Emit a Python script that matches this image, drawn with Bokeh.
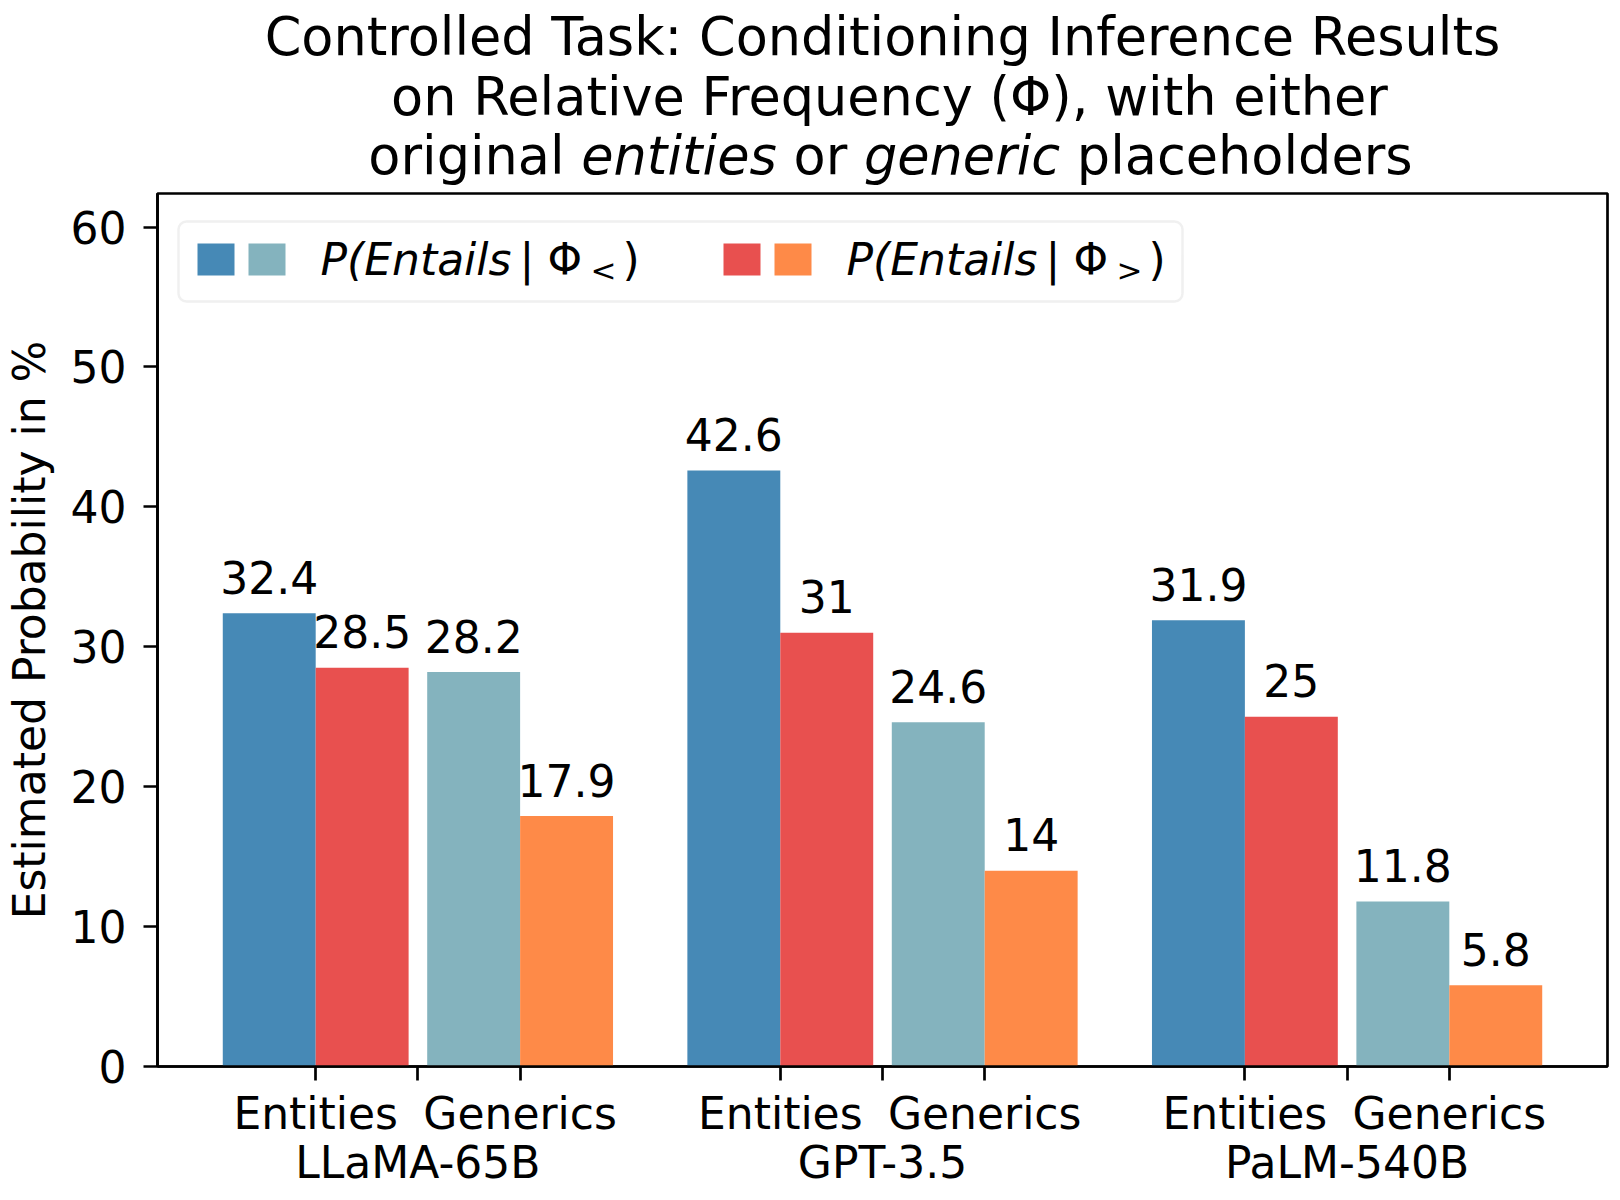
import numpy as np
from bokeh.plotting import figure
from bokeh.layouts import column
from bokeh.models import Range1d, LinearAxis, FixedTicker, Label, BoxAnnotation
from bokeh.embed import file_html
from bokeh.resources import INLINE
from bokeh.core.properties import value

# ---------------- data ----------------
models = ["LLaMA-65B", "GPT-3.5", "PaLM-540B"]
subgroups = ["Entities", "Generics"]
entities_lt = [32.4, 42.6, 31.9]   # P(Entails | Phi_<), original entities
entities_gt = [28.5, 31.0, 25.0]   # P(Entails | Phi_>), original entities
generics_lt = [28.2, 24.6, 11.8]   # P(Entails | Phi_<), generic placeholders
generics_gt = [17.9, 14.0, 5.8]    # P(Entails | Phi_>), generic placeholders
y_ticks = [0, 10, 20, 30, 40, 50, 60]
title_lines = ["Controlled Task: Conditioning Inference Results",
               "on Relative Frequency (\u03a6), with either"]
title_words = [("original", "normal"), ("entities", "italic"), ("or", "normal"),
               ("generic", "italic"), ("placeholders", "normal")]

BLUE, TEAL, RED, ORANGE = "#4689B6", "#84B3BE", "#E8504F", "#FE8A48"
FONT = "DejaVu Sans"
BASE_FIX = 0.34   # rendered alphabetic baseline sits this many em lower

# ---------------- geometry (page pixels) ----------------
X0, X1 = -0.5605, 2.5605
Y0, Y1 = 0.0, 62.4
FW, FH = 1450, 873
PL, PT = 157, 193           # frame left/top on the page
HH = 188                    # header (title) height
TOTAL_W = 1615
BR = TOTAL_W - PL - FW

def xd(px):
    return X0 + (px - PL) / FW * (X1 - X0)

def yd(py):
    return Y1 - (py - PT) / FH * (Y1 - Y0)

# ---------------- header with title (frame aligned with the plot frame) ----------------
hdr = figure(x_range=Range1d(PL, PL + FW), y_range=Range1d(0, HH),
             x_axis_type=None, y_axis_type=None,
             output_backend="svg", toolbar_location=None,
             min_border_left=PL, min_border_right=BR,
             min_border_top=0, min_border_bottom=0, outline_line_color=None)
hdr.frame_width = FW
hdr.frame_height = HH
hdr.xgrid.visible = False
hdr.ygrid.visible = False
TS = 52.5
XC = PL + FW / 2
for line, base, dx in zip(title_lines, (54, 113.5), (0, 7)):
    hdr.text(x=[XC + dx], y=[HH - base], text=[line], text_align="center",
             text_baseline="alphabetic", y_offset=-BASE_FIX * TS,
             text_font=value(FONT), text_font_size=f"{TS}px", text_color="black")

ADV = {"o": 1253, "r": 842, "i": 569, "g": 1300, "n": 1298, "a": 1255, "l": 569,
       "e": 1260, "t": 803, "s": 1067, "c": 1126, "p": 1300, "h": 1298, "d": 1300,
       " ": 651}
full = " ".join(w for w, _ in title_words)
cursor = XC + 8 - sum(ADV[ch] for ch in full) / 2048 * TS / 2
for w, style in title_words:
    hdr.text(x=[cursor], y=[HH - 173], text=[w], text_align="left",
             text_baseline="alphabetic", y_offset=-BASE_FIX * TS,
             text_font=value(FONT), text_font_style=style,
             text_font_size=f"{TS}px", text_color="black")
    cursor += (sum(ADV[ch] for ch in w) + ADV[" "]) / 2048 * TS

# ---------------- main plot ----------------
p = figure(x_range=Range1d(X0, X1), y_range=Range1d(Y0, Y1),
           x_axis_type=None, y_axis_type=None,
           output_backend="svg", toolbar_location=None,
           min_border_left=PL, min_border_top=PT - HH,
           min_border_right=BR, min_border_bottom=125)
p.frame_width = FW
p.frame_height = FH
p.xgrid.visible = False
p.ygrid.visible = False
p.outline_line_color = "black"
p.outline_line_width = 2.7
p.outline_line_alpha = 1.0
p.background_fill_color = "white"
p.border_fill_color = "white"

xs = np.arange(len(models), dtype=float)
BW = 0.2
series = [(entities_lt, -0.32, BLUE), (entities_gt, -0.12, RED),
          (generics_lt, 0.12, TEAL), (generics_gt, 0.32, ORANGE)]
for vals, off, col in series:
    p.vbar(x=xs + off, top=vals, bottom=0, width=BW, fill_color=col,
           line_color=None)
    p.text(x=xs + off, y=vals, text=[f"{v:g}" for v in vals],
           text_align="center", text_baseline="alphabetic",
           y_offset=-21 - BASE_FIX * 44,
           text_font=value(FONT), text_font_size="44px", text_color="black")

def style_axis(ax):
    ax.axis_line_color = "black"
    ax.axis_line_width = 2.7
    ax.major_tick_line_color = "black"
    ax.major_tick_line_width = 2.7
    ax.minor_tick_line_color = "black"
    ax.minor_tick_line_width = 2.7
    ax.major_tick_in = 0
    ax.minor_tick_in = 0
    ax.major_label_text_font = FONT
    ax.major_label_text_font_size = "44px"
    ax.major_label_text_color = "black"

yax = LinearAxis(ticker=FixedTicker(ticks=y_ticks, minor_ticks=[]))
style_axis(yax)
yax.major_tick_out = 14
yax.minor_tick_out = 0
yax.major_label_standoff = 17
yax.axis_label = "Estimated Probability in %"
yax.axis_label_text_font = FONT
yax.axis_label_text_font_size = "44px"
yax.axis_label_text_font_style = "normal"
yax.axis_label_text_color = "black"
yax.axis_label_standoff = 13
p.add_layout(yax, "left")

sub_ticks, sub_over = [], {}
for c in xs:
    for k, name in zip((-0.22, 0.22), subgroups):
        t = float(c + k)
        sub_ticks.append(t)
        sub_over[t] = name
xax = LinearAxis(ticker=FixedTicker(ticks=sub_ticks, minor_ticks=[float(c) for c in xs]))
style_axis(xax)
xax.major_tick_out = 14
xax.minor_tick_out = 14
xax.major_label_standoff = 7
xax.major_label_overrides = sub_over
p.add_layout(xax, "below")

mod_over = {float(c): m for c, m in zip(xs, models)}
max_ax = LinearAxis(ticker=FixedTicker(ticks=[float(c) for c in xs], minor_ticks=[]))
style_axis(max_ax)
max_ax.axis_line_color = None
max_ax.major_tick_out = 0
max_ax.major_tick_line_color = None
max_ax.major_label_standoff = -5
max_ax.major_label_overrides = mod_over
p.add_layout(max_ax, "below")

# ---------------- legend ----------------
p.add_layout(BoxAnnotation(left=xd(178), right=xd(1182), top=yd(221), bottom=yd(301),
                           fill_color="white", fill_alpha=0.8, line_color="#CCCCCC",
                           line_width=2.5, border_radius=8))
entries = [((BLUE, TEAL), "<", 197), ((RED, ORANGE), ">", 723)]
for cols, sym, x0 in entries:
    for j, col in enumerate(cols):
        l = x0 + j * 51
        p.add_layout(BoxAnnotation(left=xd(l), right=xd(l + 37), top=yd(243),
                                   bottom=yd(275), fill_color=col, fill_alpha=1.0,
                                   line_color=None))
    tx = x0 + 123
    pieces = [("P(Entails", 0, "italic", 44, 274), ("|", 199, "normal", 44, 274),
              ("\u03a6", 227, "normal", 44, 274), (sym, 270, "normal", 31, 280),
              (")", 302, "normal", 44, 274)]
    for txt, dx, style, fs, base in pieces:
        p.add_layout(Label(x=xd(tx + dx), y=yd(base + -BASE_FIX * fs), text=txt,
                           text_align="left", text_baseline="alphabetic",
                           text_font=FONT, text_font_style=style,
                           text_font_size=f"{fs}px", text_color="black"))

layout = column(hdr, p, spacing=0)
open("out.html", "w").write(file_html(layout, INLINE))
